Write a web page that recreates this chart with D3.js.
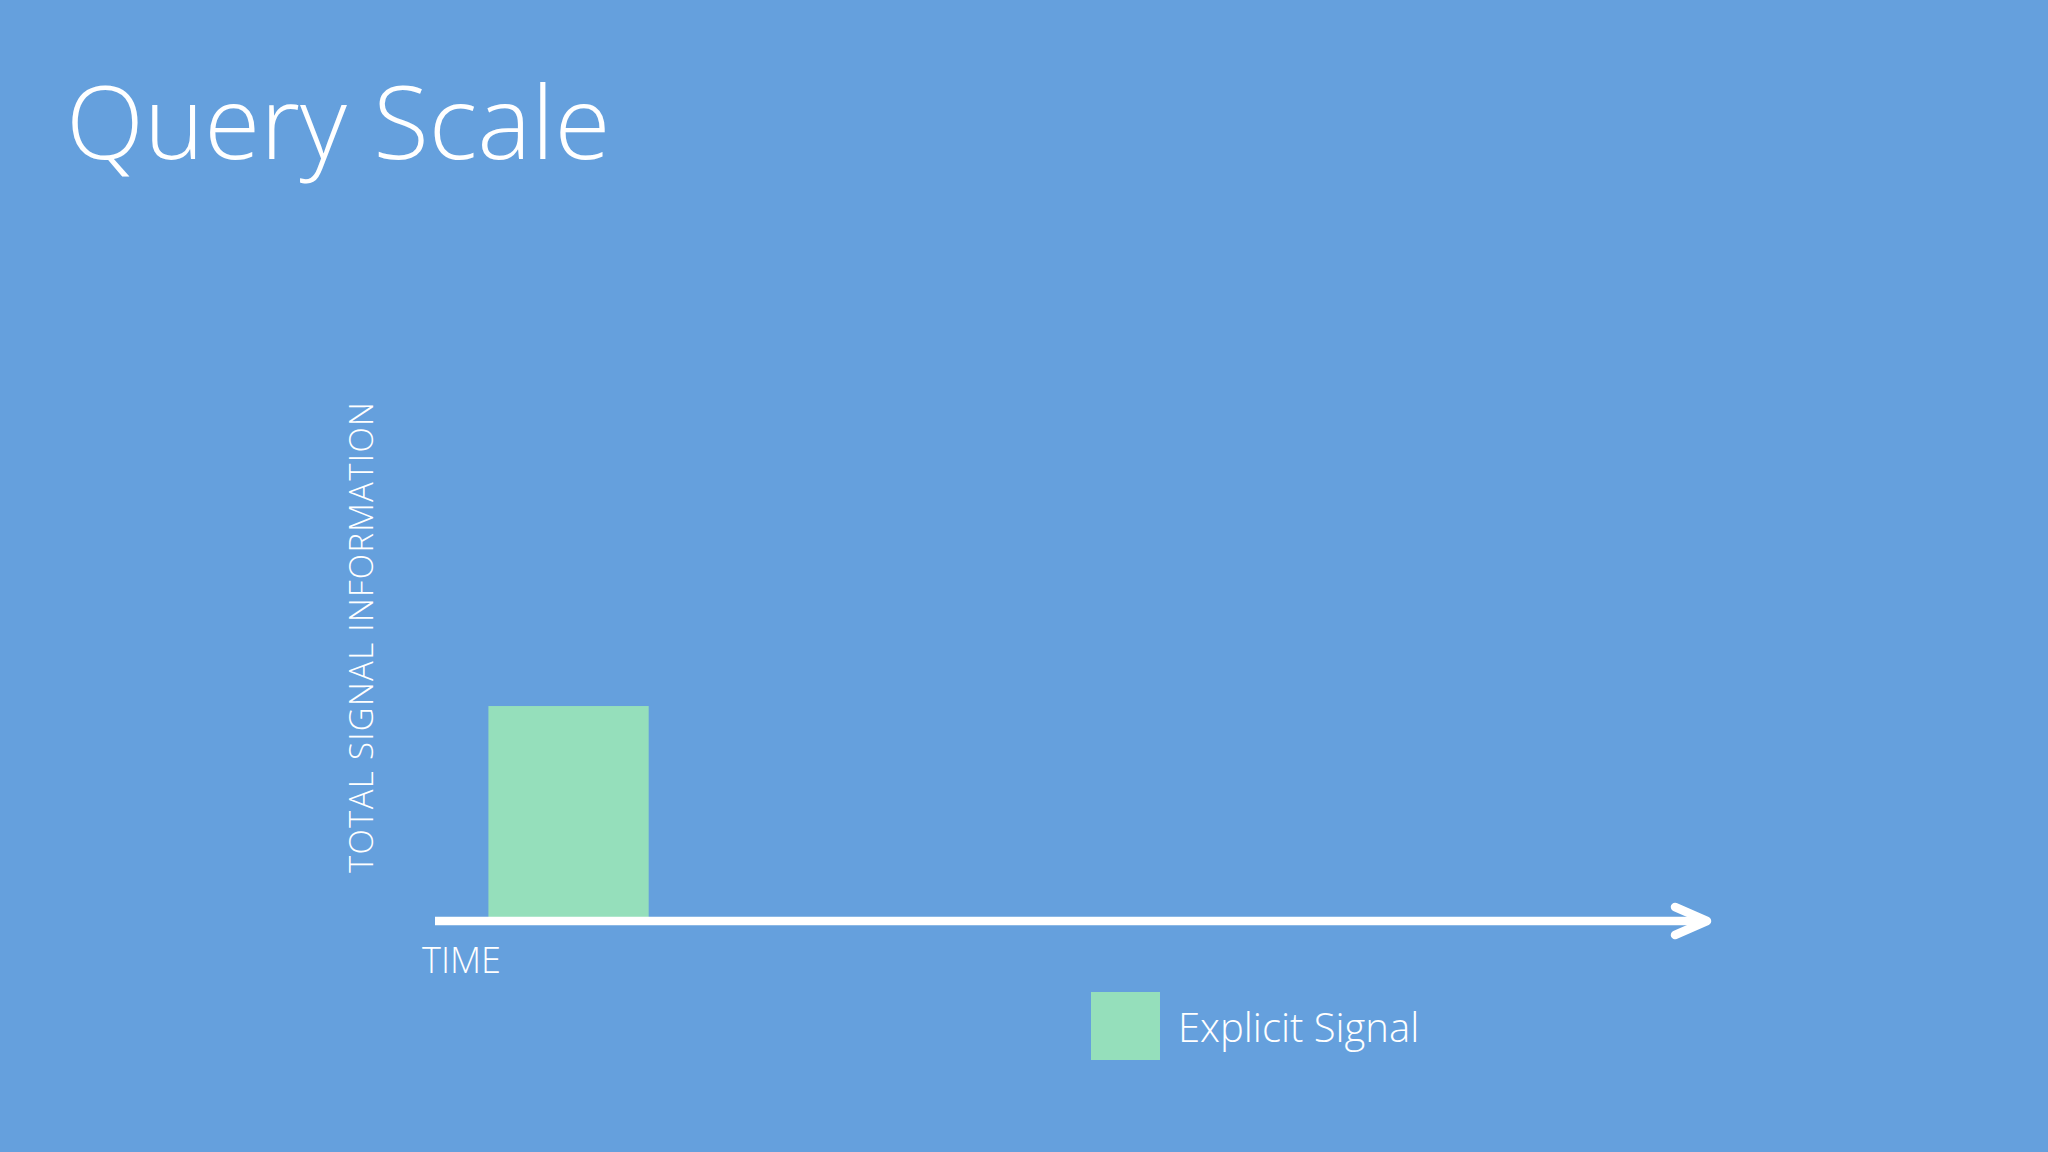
<!DOCTYPE html>
<html>
<head>
<meta charset="utf-8">
<script src="https://cdn.jsdelivr.net/npm/d3@7"></script>
<style>
  html, body { margin: 0; padding: 0; background: #65a0dd; overflow: hidden; }
  text { font-family: "Open Sans", sans-serif; fill: #fff; }
</style>
</head>
<body>
<script>
// chart data
var series = ["Explicit Signal"];
var barStart = [0.42];   // time where the bar begins
var barEnd = [1.68];     // time where the bar ends
var barValue = [41.5];   // total signal information
var colors = ["#95dfbb"];

var W = 2048, H = 1152;

var svg = d3.select("body")
            .append("svg")
            .attr("width", W)
            .attr("height", H);

svg.append("rect")
   .attr("width", W)
   .attr("height", H)
   .attr("fill", "#65a0dd");

// title
svg.append("text")
   .attr("x", 66)
   .attr("y", 159)
   .style("font-size", "102px")
   .style("font-weight", 300)
   .text("Query Scale");

var x = d3.scaleLinear().domain([0, 10]).range([435, 1707]);
var y = d3.scaleLinear().domain([0, 100]).range([921, 403]);

// bars
svg.selectAll(".bar")
   .data(series)
   .enter()
   .append("rect")
   .attr("class", "bar")
   .attr("x", function (d, i) { return x(barStart[i]); })
   .attr("width", function (d, i) { return x(barEnd[i]) - x(barStart[i]); })
   .attr("y", function (d, i) { return y(barValue[i]); })
   .attr("height", function (d, i) { return y(0) - y(barValue[i]); })
   .attr("fill", function (d, i) { return colors[i]; });

// time axis with arrow
var axisY = y(0);
svg.append("line")
   .attr("x1", x(0)).attr("x2", x(10) - 3)
   .attr("y1", axisY).attr("y2", axisY)
   .attr("stroke", "#fff")
   .attr("stroke-width", 8.5);

svg.append("path")
   .attr("d", "M" + (x(10) - 32) + "," + (axisY - 14) + " L" + x(10) + "," + axisY + " L" + (x(10) - 32) + "," + (axisY + 14))
   .attr("fill", "none")
   .attr("stroke", "#fff")
   .attr("stroke-width", 8.5)
   .attr("stroke-linecap", "round")
   .attr("stroke-linejoin", "round");

svg.append("text")
   .attr("x", 422)
   .attr("y", 973)
   .style("font-size", "36px")
   .style("font-weight", 300)
   .text("TIME");

// y label
svg.append("text")
   .attr("text-anchor", "middle")
   .attr("transform", "translate(373,637) rotate(-90)")
   .style("font-size", "33px")
   .style("font-weight", 300)
   .style("letter-spacing", "1.3px")
   .text("TOTAL SIGNAL INFORMATION");

// legend
var legend = svg.selectAll(".legend")
                .data(series)
                .enter()
                .append("g")
                .attr("class", "legend")
                .attr("transform", function (d, i) { return "translate(1091," + (992 + i * 80) + ")"; });

legend.append("rect")
      .attr("width", 69)
      .attr("height", 68)
      .attr("fill", function (d, i) { return colors[i]; });

legend.append("text")
      .attr("x", 87)
      .attr("y", 50)
      .style("font-size", "40px")
      .style("font-weight", 300)
      .text(function (d) { return d; });
</script>
</body>
</html>
